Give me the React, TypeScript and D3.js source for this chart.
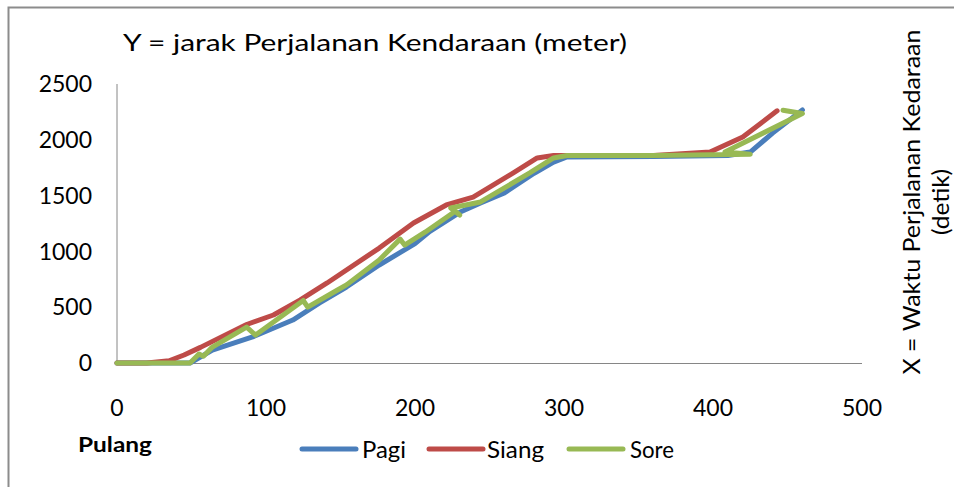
import React from "react";
import * as d3 from "d3";

// Waktu (detik) and jarak (meter) for each trip period
const pagiTime = [0, 20, 49, 64, 91, 118, 136, 154, 176, 200, 210, 230, 244, 260, 266, 280, 293, 302, 360, 410, 425, 440, 460];
const pagiDist = [0, 0, 0, 116, 233, 385, 538, 681, 878, 1070, 1180, 1350, 1434, 1523, 1577, 1700, 1800, 1846, 1850, 1860, 1890, 2060, 2267];

const siangTime = [0, 20, 35, 45, 56, 87, 105, 123, 141, 176, 199, 221, 239, 266, 282, 293, 360, 398, 420, 443];
const siangDist = [0, 0, 20, 72, 140, 345, 430, 565, 717, 1030, 1254, 1416, 1487, 1703, 1837, 1860, 1860, 1890, 2025, 2260];

const soreTime = [0, 49, 55, 58, 64, 87, 93, 125, 128, 148, 154, 176, 190, 193, 207, 227, 230, 224, 244, 277, 293, 302, 360, 425, 408, 460, 447];
const soreDist = [0, 0, 80, 60, 143, 322, 250, 560, 500, 654, 700, 923, 1110, 1057, 1174, 1360, 1326, 1389, 1443, 1703, 1837, 1860, 1860, 1870, 1890, 2235, 2265];

const xTicks = [0, 100, 200, 300, 400, 500];
const yTicks = [0, 500, 1000, 1500, 2000, 2500];

const seriesNames = ["Pagi", "Siang", "Sore"];
const seriesColors = ["#4A7EBB", "#BE4B48", "#98B954"];

const FONT = "Lato, 'Open Sans', sans-serif";

export default function App() {
  const x = d3.scaleLinear().domain([0, 500]).range([117, 862]);
  const y = d3.scaleLinear().domain([0, 2500]).range([363, 84]);

  const series = [
    d3.zip(pagiTime, pagiDist),
    d3.zip(siangTime, siangDist),
    d3.zip(soreTime, soreDist),
  ];
  const line = d3
    .line<number[]>()
    .x((d) => x(d[0]))
    .y((d) => y(d[1]));

  // legend: key line start, label start, label width
  const legendX = [302, 429, 569];
  const legendKey = 54;
  const legendLabelX = [362, 487, 630];
  const legendLabelW = [44, 57, 44];

  return (
    <svg
      width={954}
      height={487}
      style={{ position: "absolute", left: 0, top: 0, background: "#fff" }}
      fontFamily={FONT}
    >
      {/* chart frame */}
      <rect x={8.5} y={7.5} width={1000} height={1000} fill="none" stroke="#8c8c8c" strokeWidth={2} />

      <text x={123} y={51} fontSize={24} fill="#000" textLength={504} lengthAdjust="spacingAndGlyphs">
        Y = jarak Perjalanan Kendaraan (meter)
      </text>

      {/* axes */}
      <line x1={x(0)} x2={x(0)} y1={y(2500)} y2={y(0)} stroke="#868686" strokeWidth={1} />
      <line x1={x(0)} x2={x(500)} y1={y(0) + 0.5} y2={y(0) + 0.5} stroke="#868686" strokeWidth={1} />

      {yTicks.map((t) => (
        <text key={t} x={92} y={y(t)} dy="0.36em" textAnchor="end" fontSize={23} fill="#000">
          {t}
        </text>
      ))}
      {xTicks.map((t) => (
        <text key={t} x={x(t)} y={408} dy="0.36em" textAnchor="middle" fontSize={23} fill="#000">
          {t}
        </text>
      ))}

      {series.map((s, i) => (
        <path
          key={seriesNames[i]}
          d={line(s) ?? ""}
          fill="none"
          stroke={seriesColors[i]}
          strokeWidth={5}
          strokeLinejoin="round"
          strokeLinecap="round"
        />
      ))}

      <text
        transform="translate(920,202) rotate(-90)"
        textAnchor="middle"
        fontSize={23}
        fill="#000"
        textLength={345}
        lengthAdjust="spacingAndGlyphs"
      >
        X = Waktu Perjalanan Kedaraan
      </text>
      <text
        transform="translate(949,202) rotate(-90)"
        textAnchor="middle"
        fontSize={23}
        fill="#000"
        textLength={66}
        lengthAdjust="spacingAndGlyphs"
      >
        (detik)
      </text>

      <text
        x={78}
        y={444}
        dy="0.36em"
        fontSize={21}
        fontWeight="bold"
        fill="#000"
        textLength={74}
        lengthAdjust="spacingAndGlyphs"
      >
        Pulang
      </text>

      {seriesNames.map((n, i) => (
        <g key={n}>
          <line
            x1={legendX[i]}
            x2={legendX[i] + legendKey}
            y1={449}
            y2={449}
            stroke={seriesColors[i]}
            strokeWidth={5}
            strokeLinecap="round"
          />
          <text
            x={legendLabelX[i]}
            y={449}
            dy="0.36em"
            fontSize={24}
            fill="#000"
            textLength={legendLabelW[i]}
            lengthAdjust="spacingAndGlyphs"
          >
            {n}
          </text>
        </g>
      ))}
    </svg>
  );
}
